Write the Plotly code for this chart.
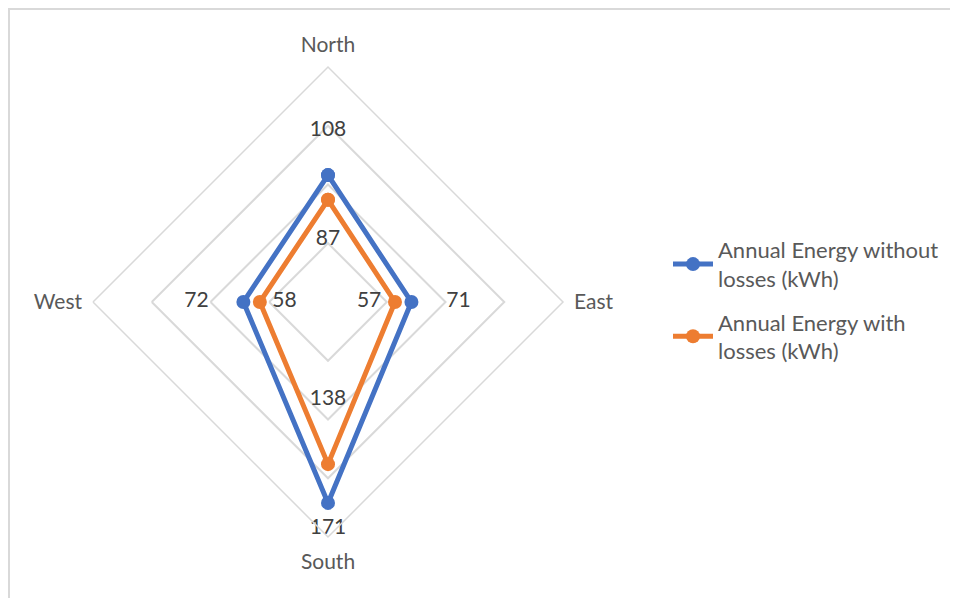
import plotly.graph_objects as go

categories = ["North", "East", "South", "West"]
without_losses = [108, 71, 171, 72]
with_losses = [87, 57, 138, 58]
series_names = ["Annual Energy without<br>losses (kWh)", "Annual Energy with<br>losses (kWh)"]

# label placement offsets (radial units) mimicking Excel's label positions
offset_without = [38, 40, 22, 40]
offset_with = [-34, -22, -55, -21]

colors = ["#4472C4", "#ED7D31"]
FONT = "Lato"
TXT = "#595959"
W, H = 958, 598
SHIFT = 8  # page body margin compensation (px)

fig = go.Figure()
for vals, name, col, grp in [
    (without_losses, series_names[0], colors[0], "a"),
    (with_losses, series_names[1], colors[1], "b"),
]:
    fig.add_trace(go.Scatterpolar(
        r=vals + vals[:1], theta=categories + categories[:1],
        mode="lines+markers", name=name, legendgroup=grp,
        line=dict(color=col, width=5),
        marker=dict(color=col, size=14),
        hoverinfo="skip",
    ))

for vals, offs in [(without_losses, offset_without), (with_losses, offset_with)]:
    fig.add_trace(go.Scatterpolar(
        r=[v + o for v, o in zip(vals, offs)], theta=categories,
        mode="text", text=[str(v) for v in vals], textposition="middle center",
        textfont=dict(family=FONT, size=21, color="#404040"),
        showlegend=False, hoverinfo="skip",
    ))

cx, cy, rad = 328 - SHIFT, 302 - SHIFT, 235
fig.update_layout(
    width=W, height=H,
    margin=dict(l=0, r=0, t=0, b=0),
    paper_bgcolor="white", plot_bgcolor="white",
    font=dict(family=FONT, size=21, color=TXT),
    polar=dict(
        domain=dict(x=[(cx - rad) / W, (cx + rad) / W],
                    y=[1 - (cy + rad) / H, 1 - (cy - rad) / H]),
        gridshape="linear",
        bgcolor="white",
        radialaxis=dict(range=[0, 200], dtick=50, showticklabels=False, ticks="",
                        showline=False, gridcolor="#D9D9D9", gridwidth=1.5),
        angularaxis=dict(rotation=90, direction="clockwise", showgrid=False,
                         showline=True, linecolor="#D9D9D9", linewidth=1.5,
                         ticks="outside", ticklen=6, tickcolor="rgba(0,0,0,0)",
                         tickfont=dict(family=FONT, size=21, color=TXT)),
    ),
    legend=dict(x=(716 - 40 - 8 - SHIFT) / W, y=1 - (229 - SHIFT) / H,
                xanchor="left", yanchor="top",
                font=dict(family=FONT, size=22, color=TXT),
                tracegroupgap=12, itemwidth=40, bgcolor="rgba(0,0,0,0)"),
    shapes=[dict(type="rect", xref="paper", yref="paper",
                 x0=1 / W, x1=1.05, y0=-0.05, y1=1 - 1 / H,
                 line=dict(color="#D9D9D9", width=2))],
)

fig.write_html("out.html")
